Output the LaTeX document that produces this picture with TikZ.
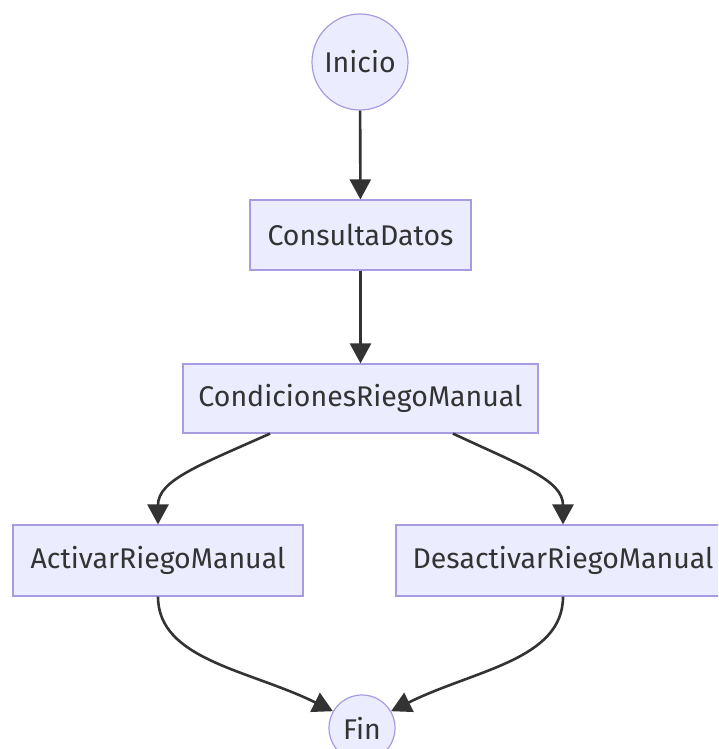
\documentclass[tikz,border=0pt]{standalone}
\usepackage{fontspec}
\setmainfont{Fira Sans}
\usetikzlibrary{arrows.meta}
\definecolor{nodefill}{HTML}{ECECFF}
\definecolor{nodeborder}{HTML}{A99BDF}
\definecolor{linecol}{HTML}{333333}
\begin{document}
\begin{tikzpicture}[x=1pt,y=1pt,
  box/.style={draw=nodeborder, fill=nodefill, line width=1.2pt, text=linecol, font=\fontsize{28.5}{32}\selectfont, inner sep=0pt},
  circ/.style={box, circle},
  conn/.style={draw=linecol, line width=2.6pt, -{Triangle[length=20pt,width=21pt]}}
]
\useasboundingbox (0,0) rectangle (718,-749);
\clip (0,0) rectangle (718,-749);
\fill[white] (0,0) rectangle (718,-749);
\node[circ, minimum size=96pt] (inicio) at (360,-62) {Inicio};
\node[box, minimum width=221pt, minimum height=70pt] (consulta) at (360.5,-235) {ConsultaDatos};
\node[box, minimum width=355pt, minimum height=69pt] (cond) at (360.5,-398.5) {CondicionesRiegoManual};
\node[box, minimum width=290pt, minimum height=71pt] (activar) at (158,-560.5) {ActivarRiegoManual};
\node[box, minimum width=334pt, minimum height=71pt] (desact) at (563,-560.5) {DesactivarRiegoManual};
\node[circ, minimum size=66pt] (fin) at (362,-728) {Fin};
\draw[conn] (inicio) -- (consulta);
\draw[conn] (consulta) -- (cond);
\draw[conn] (cond.south -| 270,0) .. controls (200,-465) and (158,-480) .. (activar.north);
\draw[conn] (cond.south -| 453,0) .. controls (520,-465) and (563,-480) .. (desact.north);
\draw[conn] (activar.south) .. controls (158,-660) and (250,-670) .. (fin.150);
\draw[conn] (desact.south) .. controls (563,-660) and (474,-670) .. (fin.30);
\end{tikzpicture}
\end{document}
